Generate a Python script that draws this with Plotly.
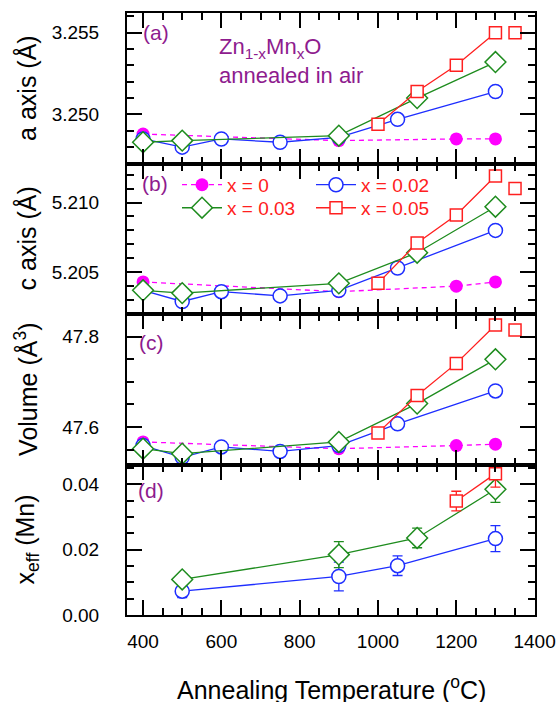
import plotly.graph_objects as go
from plotly.subplots import make_subplots

# ---------------- data ----------------
T_x0 = [400, 900, 1200, 1300]
a_x0 = [3.2488, 3.2484, 3.2485, 3.2485]
c_x0 = [5.2043, 5.2036, 5.2040, 5.2043]
v_x0 = [47.567, 47.552, 47.559, 47.562]

T_x02 = [400, 500, 600, 750, 900, 1050, 1300]
a_x02 = [3.2485, 3.2480, 3.2485, 3.2483, 3.2486, 3.2497, 3.2514]
c_x02 = [5.2037, 5.2029, 5.2036, 5.2033, 5.2037, 5.2053, 5.2080]
v_x02 = [47.559, 47.533, 47.556, 47.546, 47.559, 47.607, 47.680]

T_x03 = [400, 500, 900, 1100, 1300]
a_x03 = [3.2483, 3.2484, 3.2487, 3.2510, 3.2532]
c_x03 = [5.2037, 5.2035, 5.2042, 5.2064, 5.2097]
v_x03 = [47.552, 47.541, 47.567, 47.652, 47.750]

T_x05 = [1000, 1100, 1200, 1300]
a_x05 = [3.2494, 3.2514, 3.2530, 3.2550]
c_x05 = [5.2042, 5.2071, 5.2091, 5.2119]
v_x05 = [47.587, 47.670, 47.741, 47.826]

T_x05_extra = [1350]
a_x05_extra = [3.2550]
c_x05_extra = [5.2110]
v_x05_extra = [47.815]

T_d02 = [500, 900, 1050, 1300]
xeff_02 = [0.0073, 0.0118, 0.0151, 0.0234]
err_02 = [0.0020, 0.0044, 0.0030, 0.0040]

T_d03 = [500, 900, 1100, 1300]
xeff_03 = [0.0109, 0.0185, 0.0236, 0.0385]
err_03 = [0.0018, 0.0040, 0.0030, 0.0040]

T_d05 = [1200, 1300]
xeff_05 = [0.0349, 0.0433]
err_05 = [0.0030, 0.0041]

legend_labels = ["x = 0", "x = 0.02", "x = 0.03", "x = 0.05"]

# ---------------- styles ----------------
MAG = "#FF00FF"
BLUE = "#1E2EFF"
GREEN = "#1E8C1E"
RED = "#FF2020"
PURPLE = "#8E1B8E"
FONT = "Liberation Sans, Arial, sans-serif"

fig = make_subplots(rows=4, cols=1, shared_xaxes=True, vertical_spacing=0)

def m_open(sym, col, size):
    return dict(symbol=sym, size=size, color="white", line=dict(color=col, width=1.5))

def add_panel(row, y0, y2, y3, y5, y5e, first=False):
    fig.add_trace(go.Scatter(x=T_x0, y=y0, mode="lines+markers", name=legend_labels[0],
                             line=dict(color=MAG, width=1.3, dash="5px,4px"),
                             marker=dict(symbol="circle", size=13, color=MAG),
                             showlegend=first, legend="legend"), row=row, col=1)
    fig.add_trace(go.Scatter(x=T_x02, y=y2, mode="lines+markers", name=legend_labels[1],
                             line=dict(color=BLUE, width=1.3),
                             marker=m_open("circle", BLUE, 14),
                             showlegend=first, legend="legend2"), row=row, col=1)
    fig.add_trace(go.Scatter(x=T_x03, y=y3, mode="lines+markers", name=legend_labels[2],
                             line=dict(color=GREEN, width=1.3),
                             marker=m_open("diamond", GREEN, 16),
                             showlegend=first, legend="legend3"), row=row, col=1)
    fig.add_trace(go.Scatter(x=T_x05, y=y5, mode="lines+markers", name=legend_labels[3],
                             line=dict(color=RED, width=1.3),
                             marker=m_open("square", RED, 12),
                             showlegend=first, legend="legend4"), row=row, col=1)
    fig.add_trace(go.Scatter(x=T_x05_extra, y=y5e, mode="markers",
                             marker=m_open("square", RED, 12),
                             showlegend=False), row=row, col=1)

add_panel(1, a_x0, a_x02, a_x03, a_x05, a_x05_extra)
add_panel(2, c_x0, c_x02, c_x03, c_x05, c_x05_extra, first=True)
add_panel(3, v_x0, v_x02, v_x03, v_x05, v_x05_extra)

def eb(arr, col):
    return dict(type="data", array=arr, visible=True, thickness=1.3, width=5, color=col)

fig.add_trace(go.Scatter(x=T_d02, y=xeff_02, mode="lines+markers",
                         line=dict(color=BLUE, width=1.3), marker=m_open("circle", BLUE, 14),
                         error_y=eb(err_02, BLUE), showlegend=False), row=4, col=1)
fig.add_trace(go.Scatter(x=T_d03, y=xeff_03, mode="lines+markers",
                         line=dict(color=GREEN, width=1.3), marker=m_open("diamond", GREEN, 16),
                         error_y=eb(err_03, GREEN), showlegend=False), row=4, col=1)
fig.add_trace(go.Scatter(x=T_d05, y=xeff_05, mode="lines+markers",
                         line=dict(color=RED, width=1.3), marker=m_open("square", RED, 12),
                         error_y=eb(err_05, RED), showlegend=False), row=4, col=1)

axis_common = dict(showline=True, linecolor="black", linewidth=2, mirror="ticks",
                   ticks="inside", ticklen=15, tickwidth=2, tickcolor="black",
                   showgrid=False, zeroline=False,
                   tickfont=dict(family=FONT, size=19, color="black"))

for r in range(1, 5):
    fig.update_xaxes(range=[359, 1401], dtick=200, tick0=0,
                     minor=dict(ticks="inside", ticklen=7, dtick=50, tick0=0,
                                tickwidth=1.5, tickcolor="black"),
                     showticklabels=(r == 4), ticklabelstandoff=8,
                     row=r, col=1, **axis_common)

yspecs = [
    (1, [3.2470, 3.2562], 0.005, 0.001, ".3f"),
    (2, [5.2020, 5.2128], 0.005, 0.001, ".3f"),
    (3, [47.517, 47.8504], 0.2, 0.05, ".1f"),
    (4, [0.0, 0.0461], 0.02, 0.005, ".2f"),
]
for r, rng, dt, mdt, fmt in yspecs:
    fig.update_yaxes(range=rng, dtick=dt, tick0=0, tickformat=fmt,
                     minor=dict(ticks="inside", ticklen=7, dtick=mdt, tick0=0,
                                tickwidth=1.5, tickcolor="black"),
                     ticklabelstandoff=22,
                     row=r, col=1, **axis_common)

ann = []
def panel_label(txt, xr, yr, x, y):
    ann.append(dict(text=txt, xref=xr, yref=yr, x=x, y=y, xanchor="left", yanchor="middle",
                    showarrow=False, font=dict(family=FONT, size=21, color=PURPLE)))

panel_label("(a)", "x domain", "y domain", 0.035, 0.869)
panel_label("(b)", "x2 domain", "y2 domain", 0.032, 0.867)
panel_label("(c)", "x3 domain", "y3 domain", 0.025, 0.809)
panel_label("(d)", "x4 domain", "y4 domain", 0.022, 0.827)

ann.append(dict(text="Zn<sub>1-x</sub>Mn<sub>x</sub>O<br>annealed in air",
                xref="x domain", yref="y domain", x=0.22, y=0.68,
                xanchor="left", yanchor="middle", align="left", showarrow=False,
                font=dict(family=FONT, size=22, color=PURPLE)))

ytitles = [("a axis (Å)", 0.875), ("c axis (Å)", 0.625),
           ("Volume (Å<sup>3</sup>)", 0.375), ("x<sub>eff</sub> (Mn)", 0.125)]
for t, yp in ytitles:
    ann.append(dict(text=t, xref="paper", yref="paper", x=-0.246, y=yp,
                    xanchor="center", yanchor="middle", textangle=-90, showarrow=False,
                    font=dict(family=FONT, size=25, color="black")))

ann.append(dict(text="Annealing Temperature (<sup>o</sup>C)", xref="paper", yref="paper",
                x=0.5, y=-0.122, xanchor="center", yanchor="middle", showarrow=False,
                font=dict(family=FONT, size=25, color="black")))

# legend placement (paper coords of plot area: x 0..1 -> 127..535 px, y 1..0 -> 13..615 px)
def leg(xp, yp):
    return dict(x=xp, y=yp, xanchor="left", yanchor="middle", bgcolor="rgba(0,0,0,0)",
                font=dict(family=FONT, size=19, color=RED), itemwidth=40)

row1 = 1 - (185 - 13.3) / 601.4
row2 = 1 - (208 - 13.3) / 601.4
col1 = (177 - 127) / 408
col2 = (311 - 127) / 408

fig.update_layout(
    width=559, height=702,
    margin=dict(l=127, r=24, t=13, b=87, autoexpand=False),
    paper_bgcolor="white", plot_bgcolor="white",
    font=dict(family=FONT, color="black"),
    annotations=ann,
    legend=leg(col1, row1),
    legend2=leg(col2, row1),
    legend3=leg(col1, row2),
    legend4=leg(col2, row2),
)

# remove the default page margin so the 559x702 figure fills the window exactly
fig.write_html("out.html", config={"displayModeBar": False},
               post_script="document.body.style.margin='0';")
